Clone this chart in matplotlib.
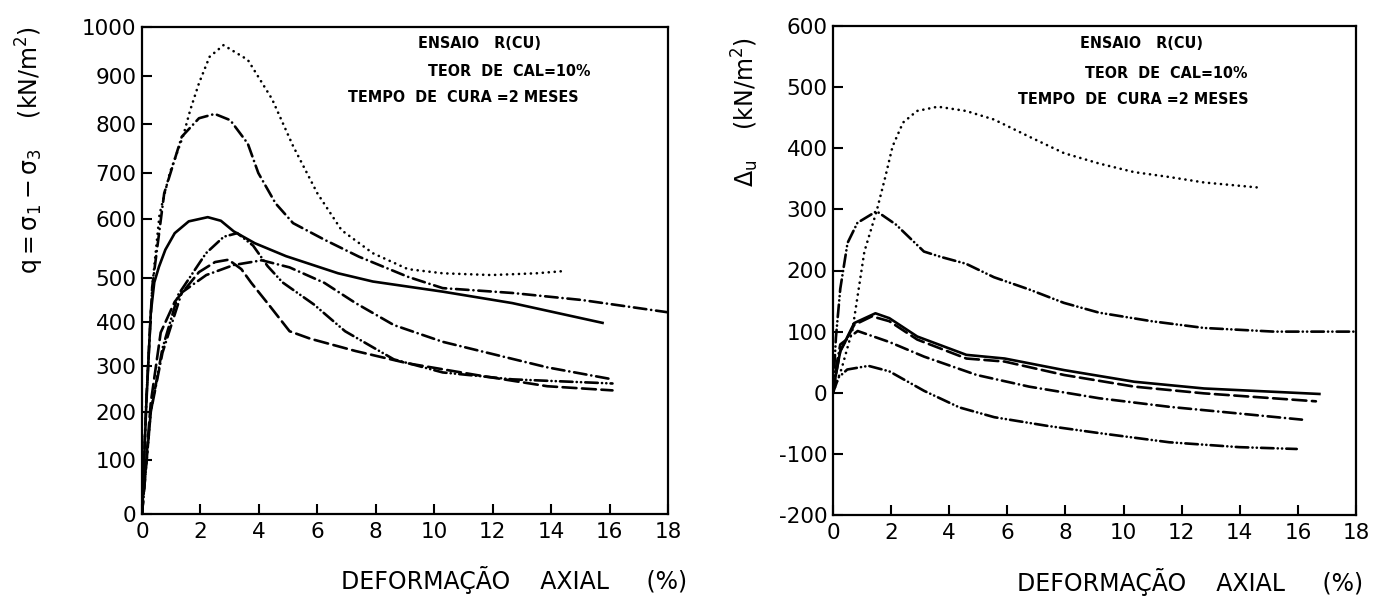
import matplotlib
matplotlib.use('Agg')
import matplotlib.pyplot as plt
import numpy as np

plt.rcParams['font.family'] = ['DejaVu Sans']
plt.rcParams['lines.scale_dashes'] = False
plt.rcParams['axes.unicode_minus'] = False

W, H = 1379, 600

# ---- left panel: q = s1 - s3 (kN/m2) vs axial strain (%) ----
q_dot_x = [0, 0.15, 0.35, 0.6, 0.95, 1.42, 1.65, 1.95, 2.31, 2.79, 3.62, 4.45,
           5.17, 6.0, 6.83, 7.9, 9.1, 10.29, 11.95, 13.5, 14.5]
q_dot_y = [0, 230, 480, 610, 700, 778, 829, 885, 939, 963, 933, 852,
           755, 656, 581, 542, 515, 508, 505, 508, 512]

q_dd_x = [0, 0.15, 0.35, 0.76, 1.36, 1.95, 2.49, 3.02, 3.62, 3.98, 4.57, 5.17,
          6.24, 7.43, 9.1, 10.29, 12.67, 15.05, 18.0]
q_dd_y = [0, 230, 480, 656, 774, 812, 821, 808, 760, 700, 634, 593,
          565, 536, 502, 477, 466, 450, 422]

q_solid_x = [0, 0.15, 0.3, 0.42, 0.58, 0.8, 1.12, 1.6, 2.25, 2.7, 3.14, 3.86,
             4.93, 6.71, 7.9, 10.29, 12.67, 15.76]
q_solid_y = [0, 220, 420, 490, 519, 548, 576, 596, 604, 597, 579, 559,
             537, 508, 492, 469, 443, 398]

q_ddd_x = [0, 0.3, 0.7, 1.24, 2.19, 2.8, 3.26, 3.8, 4.3, 4.81, 5.88, 6.95,
           8.62, 10.29, 12.67, 16.1]
q_ddd_y = [0, 200, 340, 462, 542, 570, 576, 555, 520, 490, 440, 379,
           315, 286, 271, 262]

q_dash_x = [0, 0.3, 0.64, 1.12, 1.95, 2.5, 2.96, 3.4, 3.74, 4.33, 5.05, 5.76,
            7.31, 9.1, 11.48, 13.87, 16.1]
q_dash_y = [0, 220, 376, 446, 510, 527, 531, 515, 489, 440, 379, 362,
            334, 306, 280, 256, 247]

q_dd2_x = [0, 0.3, 0.7, 1.36, 2.2, 3.14, 4.1, 5.05, 6.24, 7.31, 8.62, 10.29,
           12.07, 13.87, 16.1]
q_dd2_y = [0, 200, 330, 467, 505, 522, 530, 518, 489, 443, 393, 355,
           326, 297, 271]

# ---- right panel: pore pressure du (kN/m2) ----
u_dot_x = [0, 0.3, 0.67, 1.08, 1.5, 1.8, 2.05, 2.41, 2.89, 3.61, 4.58, 5.54,
           6.75, 7.95, 9.16, 10.36, 11.57, 12.77, 14.58]
u_dot_y = [0, 40, 103, 231, 297, 353, 403, 442, 461, 468, 461, 447,
           419, 392, 375, 361, 353, 344, 336]

u_ddd_x = [0, 0.1, 0.25, 0.5, 0.84, 1.5, 2.17, 3.13, 3.73, 4.58, 5.54, 6.75,
           7.95, 9.16, 10.97, 12.77, 15.18, 18.0]
u_ddd_y = [0, 90, 170, 245, 278, 297, 275, 231, 222, 211, 189, 169,
           147, 131, 117, 106, 100, 100]

u_solid_x = [0, 0.1, 0.25, 0.73, 1.46, 1.94, 2.9, 4.59, 5.91, 7.96, 10.37, 12.77, 16.74]
u_solid_y = [0, 30, 68, 114, 130, 122, 92, 62, 56, 37, 18, 7, -2]

u_dash_x = [0, 0.1, 0.25, 0.73, 1.34, 1.94, 2.9, 4.59, 5.91, 7.96, 10.37, 12.77, 16.62]
u_dash_y = [0, 30, 68, 111, 125, 117, 87, 56, 51, 29, 10, -1, -14]

u_dd_x = [0, 0.1, 0.25, 0.85, 1.94, 3.14, 4.95, 6.75, 9.16, 11.57, 13.98, 16.14]
u_dd_y = [0, 40, 79, 101, 83, 59, 29, 10, -9, -23, -34, -44]

u_ddd2_x = [0, 0.19, 0.49, 1.22, 1.94, 3.14, 4.35, 5.55, 7.35, 9.16, 11.57, 13.98, 15.96]
u_ddd2_y = [0, 25, 38, 44, 35, 3, -24, -40, -54, -66, -81, -89, -92]

x_ticks = list(range(0, 19, 2))
q_ticks = list(range(0, 1001, 100))
u_ticks = list(range(-200, 601, 100))

# the hand-drawn q axis has unevenly spaced ticks (pixel heights above the x axis)
q_tick_h = [0, 54, 102, 148, 192, 236, 295, 341, 390, 438, 487]
qv = np.array([-1000] + q_ticks + [2000], float)
qh = np.array([-487] + q_tick_h + [974], float)


def q_fwd(v):
    return np.interp(v, qv, qh)


def q_inv(h):
    return np.interp(h, qh, qv)


DOT = (0, (0.1, 4.2))
DASH = (0, (10, 4))
DD = (0, (9, 3.5, 0.1, 3.5))
DDD = (0, (9, 3, 0.1, 3, 0.1, 3))
LW = 1.9
K = 'black'

fig = plt.figure(figsize=(W / 100, H / 100), dpi=100)
axl = fig.add_axes([142 / W, 1 - 514 / H, 526 / W, 487 / H])
axr = fig.add_axes([833 / W, 1 - 515 / H, 523 / W, 489 / H])

kw = dict(color=K, lw=LW, solid_joinstyle='round', dash_capstyle='round')
axl.plot(q_dot_x, q_dot_y, ls=DOT, **kw)
axl.plot(q_dd_x, q_dd_y, ls=DD, **kw)
axl.plot(q_solid_x, q_solid_y, ls='-', **kw)
axl.plot(q_ddd_x, q_ddd_y, ls=DDD, **kw)
axl.plot(q_dash_x, q_dash_y, ls=DASH, **kw)
axl.plot(q_dd2_x, q_dd2_y, ls=DD, **kw)

axr.plot(u_dot_x, u_dot_y, ls=DOT, **kw)
axr.plot(u_ddd_x, u_ddd_y, ls=DDD, **kw)
axr.plot(u_solid_x, u_solid_y, ls='-', **kw)
axr.plot(u_dash_x, u_dash_y, ls=DASH, **kw)
axr.plot(u_dd_x, u_dd_y, ls=DD, **kw)
axr.plot(u_ddd2_x, u_ddd2_y, ls=DDD, **kw)

axl.set_yscale('function', functions=(q_fwd, q_inv))
axl.set_ylim(0, 1000)
axl.set_yticks(q_ticks)
axl.set_yticklabels([str(v) for v in q_ticks])
axr.set_ylim(-200, 600)
axr.set_yticks(u_ticks)

for ax in (axl, axr):
    ax.set_xlim(0, 18)
    ax.set_xticks(x_ticks)
    ax.tick_params(direction='in', length=7, width=1.5, labelsize=15.5, pad=6,
                   top=False, right=False)
    ax.tick_params(axis='y', pad=4)
    for s in ax.spines.values():
        s.set_linewidth(1.6)

# annotations
tk = dict(fontsize=11.5, fontweight='bold', fontstretch='condensed',
          va='center', ha='left')
for x0, y0, s in [(418, 44, 'ENSAIO   R(CU)'), (428, 71, 'TEOR  DE  CAL=10%'),
                  (348, 98, 'TEMPO  DE  CURA =2 MESES'),
                  (1080, 44, 'ENSAIO   R(CU)'), (1085, 73, 'TEOR  DE  CAL=10%'),
                  (1018, 100, 'TEMPO  DE  CURA =2 MESES')]:
    fig.text(x0 / W, 1 - y0 / H, s, **tk)

fig.text(30 / W, 1 - 150 / H,
         r'$\mathrm{q = \sigma_1 - \sigma_3}$    (kN/m$^\mathrm{2}$)',
         rotation=90, fontsize=17, ha='center', va='center')
fig.text(745 / W, 1 - 112 / H, r'$\Delta_\mathrm{u}$    (kN/m$^\mathrm{2}$)',
         rotation=90, fontsize=17, ha='center', va='center')
fig.text(514 / W, 1 - 580 / H, 'DEFORMAÇÃO    AXIAL     (%)', fontsize=17,
         ha='center', va='center')
fig.text(1190 / W, 1 - 582 / H, 'DEFORMAÇÃO    AXIAL     (%)', fontsize=17,
         ha='center', va='center')

fig.savefig('out.png', dpi=100)
